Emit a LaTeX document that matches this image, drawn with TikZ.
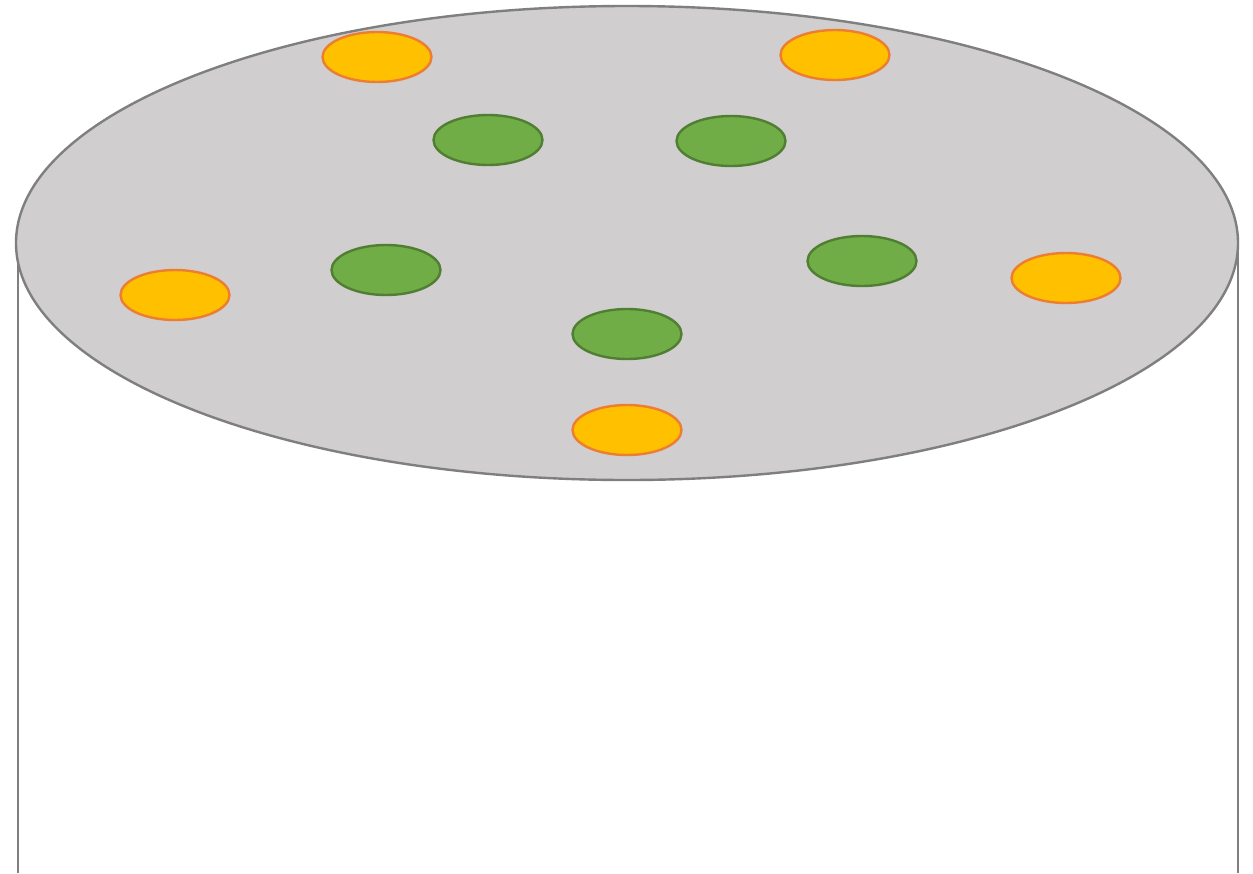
\documentclass[tikz,border=0pt]{standalone}
\definecolor{topfill}{HTML}{D0CECF}
\definecolor{edgegray}{HTML}{7F7F7F}
\definecolor{yfill}{HTML}{FFC000}
\definecolor{ydraw}{HTML}{ED7D31}
\definecolor{gfill}{HTML}{70AD47}
\definecolor{gdraw}{HTML}{507E32}
\tikzset{
  yspot/.style={fill=yfill,draw=ydraw,line width=1.2pt},
  gspot/.style={fill=gfill,draw=gdraw,line width=1.2pt},
}
\begin{document}
\begin{tikzpicture}[x=0.5pt,y=-0.5pt]
\useasboundingbox (0,0) rectangle (1253,873);
\fill[white] (0,0) rectangle (1253,873);
\draw[edgegray,line width=1.2pt] (18,243) -- (18,873);
\draw[edgegray,line width=1.2pt] (1238,243) -- (1238,873);
\draw[fill=topfill,draw=edgegray,line width=1.2pt] (627,243) ellipse [x radius=611,y radius=237];
\foreach \x/\y in {377/57,835/55,175/295,1066/278,627/430}
  \draw[yspot] (\x,\y) ellipse [x radius=54.5,y radius=25];
\foreach \x/\y in {488/140,731/141,386/270,862/261,627/334}
  \draw[gspot] (\x,\y) ellipse [x radius=54.5,y radius=25];
\end{tikzpicture}
\end{document}
